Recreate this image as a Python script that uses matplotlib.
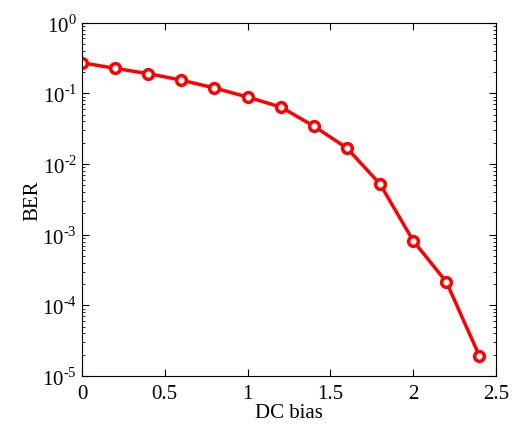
import matplotlib
matplotlib.use("Agg")
import matplotlib.pyplot as plt
import numpy as np

plt.rcParams['font.family'] = ['Liberation Serif', 'DejaVu Serif']
plt.rcParams['mathtext.fontset'] = 'custom'
plt.rcParams['mathtext.rm'] = 'Liberation Serif'

dc_bias = [0.0, 0.2, 0.4, 0.6, 0.8, 1.0, 1.2, 1.4, 1.6, 1.8, 2.0, 2.2, 2.4]
ber = [0.271, 0.226, 0.19, 0.154, 0.119, 0.0887, 0.064, 0.0344,
       0.0168, 0.0052, 8.2e-4, 2.15e-4, 1.92e-5]
exponents = [-5, -4, -3, -2, -1, 0]

fig = plt.figure(figsize=(5.16, 4.31), dpi=100)
ax = fig.add_axes([82 / 516, 1 - 377 / 431, (496 - 82) / 516, (377 - 23.7) / 431])

ax.semilogy(dc_bias, ber, color='red', lw=2.5, marker='o', ms=7,
            mfc='white', mec='red', mew=2.5)

ax.set_xlim(0, 2.5)
ax.set_ylim(1e-5, 1)
ax.set_xticks([0, 0.5, 1, 1.5, 2, 2.5])
ax.set_xticklabels(['0', '0.5', '1', '1.5', '2', '2.5'])
ax.set_yticks([10.0 ** e for e in exponents])
ax.set_yticklabels([r'$\mathrm{10}^{\text{%d}}$' % e for e in exponents])
ax.tick_params(which='both', direction='in', top=True, right=True, labelsize=15)
ax.tick_params(which='major', length=5)
ax.tick_params(which='minor', length=2.5)
ax.tick_params(axis='x', pad=6)

ax.set_xlabel('DC bias', fontsize=15, labelpad=0)
ax.set_ylabel('BER', fontsize=15, labelpad=0)

fig.savefig('out.png', dpi=100)
